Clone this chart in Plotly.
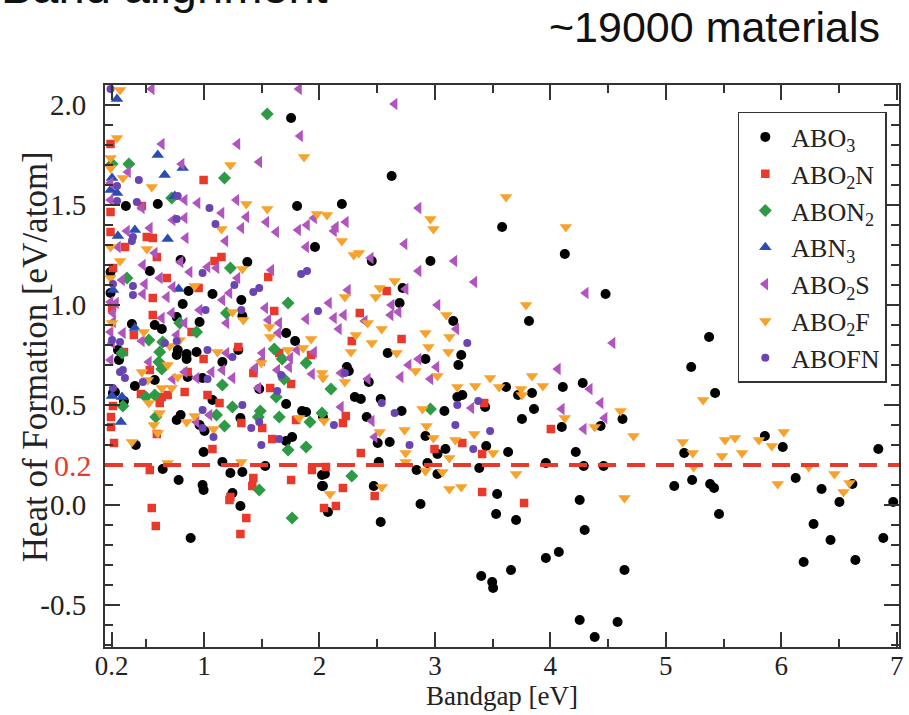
import plotly.graph_objects as go

# (bandgap [eV], heat of formation [eV/atom]) for each perovskite family
abo3 = [
    (1.754, 1.935), (0.323, 1.495), (0.599, 1.505), (1.806, 1.495), (1.961, 1.29), (0.797, 1.225),
    (1.375, 1.215), (0.530, 1.17), (0.19, 1.165), (0.866, 1.07), (1.073, 1.055), (1.323, 1.025),
    (0.815, 1.005), (0.763, 0.94), (0.573, 0.90), (0.375, 0.905), (0.634, 0.88), (0.961, 0.915),
    (1.332, 0.945), (0.254, 0.775), (0.263, 0.725), (0.772, 0.775), (0.849, 0.755), (0.935, 0.765),
    (1.297, 0.775), (1.159, 0.715), (0.763, 0.75), (0.849, 0.73), (0.858, 0.64), (0.573, 0.625),
    (0.987, 0.635), (0.401, 0.595), (0.228, 0.565), (0.211, 0.56), (0.306, 0.52), (1.073, 0.525),
    (0.797, 0.45), (0.763, 0.425), (0.961, 0.40), (1.004, 0.37), (1.315, 0.435), (0.409, 0.30),
    (0.996, 0.265), (1.159, 0.215), (0.642, 0.18), (0.780, 0.125), (0.987, 0.10), (0.996, 0.075),
    (1.246, 0.06), (1.315, -0.005), (1.228, 0.16), (1.332, 0.165), (1.530, 0.195), (1.711, 0.86),
    (1.789, 0.82), (1.478, 0.58), (1.711, 0.505), (1.849, 0.47), (1.884, 0.465), (1.763, 0.34),
    (1.711, 0.32), (2.022, 0.15), (2.022, 0.095), (2.073, -0.035), (0.884, -0.165), (2.530, -0.085),
    (2.875, 0.005), (3.530, -0.045), (3.703, -0.075), (2.625, 1.645), (2.194, 1.505), (3.582, 1.39),
    (2.453, 1.22), (2.961, 1.22), (4.125, 1.255), (2.720, 1.085), (2.694, 1.01), (3.159, 0.92),
    (3.815, 0.92), (2.591, 0.76), (3.228, 0.75), (2.918, 0.73), (3.203, 0.70), (2.237, 0.69),
    (2.254, 0.67), (2.427, 0.615), (2.306, 0.54), (2.358, 0.53), (2.530, 0.53), (3.194, 0.54),
    (3.237, 0.55), (3.616, 0.59), (3.720, 0.55), (3.841, 0.56), (4.108, 0.59), (3.435, 0.49),
    (3.858, 0.48), (3.082, 0.47), (2.711, 0.47), (2.409, 0.44), (2.030, 0.44), (3.754, 0.43),
    (4.099, 0.39), (2.918, 0.345), (2.504, 0.31), (2.608, 0.315), (3.444, 0.295), (3.091, 0.28),
    (3.022, 0.255), (3.634, 0.265), (2.513, 0.215), (2.935, 0.21), (2.841, 0.175), (3.022, 0.155),
    (3.384, 0.185), (3.961, 0.21), (2.047, 0.155), (2.030, 0.095), (2.470, 0.095), (3.539, 0.055),
    (4.478, 1.055), (4.280, 0.61), (4.435, 0.395), (5.375, 0.84), (5.220, 0.69), (5.427, 0.56),
    (4.625, 0.43), (4.220, 0.265), (4.289, 0.195), (4.461, 0.195), (4.254, 0.025), (4.297, -0.125),
    (4.073, -0.235), (4.642, -0.325), (4.254, -0.575), (4.582, -0.585), (4.384, -0.66), (5.159, 0.26),
    (5.228, 0.125), (5.073, 0.095), (5.384, 0.105), (5.418, 0.085), (5.461, -0.045), (5.858, 0.345),
    (6.013, 0.29), (6.125, 0.135), (6.349, 0.08), (6.616, 0.105), (6.504, 0.015), (6.280, -0.095),
    (6.194, -0.285), (6.427, -0.175), (6.642, -0.275), (6.841, 0.28), (6.970, 0.015), (6.884, -0.165),
    (3.401, -0.355), (3.496, -0.385), (3.504, -0.415), (3.659, -0.325), (3.961, -0.265), (0.19, 1.06),
]

abo2n = [
    (0.19, 1.805), (0.996, 1.625), (0.461, 1.495), (0.19, 1.465), (0.19, 1.365), (0.504, 1.34),
    (0.556, 1.335), (0.315, 1.29), (0.591, 1.24), (1.091, 1.22), (1.151, 1.24), (0.211, 1.185),
    (1.556, 1.14), (0.677, 1.135), (0.953, 1.085), (0.556, 1.035), (0.556, 0.95), (0.392, 0.85),
    (0.892, 0.865), (0.306, 0.765), (0.203, 0.985), (1.297, 0.79), (0.996, 0.73), (0.530, 0.675),
    (0.858, 0.665), (0.832, 0.565), (0.453, 0.555), (0.634, 0.54), (0.685, 0.55), (0.616, 0.51),
    (0.211, 0.495), (1.030, 0.55), (1.134, 0.51), (1.323, 0.41), (0.194, 0.44), (0.194, 0.39),
    (0.591, 0.355), (0.220, 0.31), (1.073, 0.28), (0.530, 0.175), (1.228, 0.04), (0.547, -0.015),
    (0.582, -0.105), (1.220, 0.025), (1.366, -0.065), (1.315, -0.145), (1.427, 0.135), (1.418, 0.095),
    (1.754, 0.125), (1.935, 0.175), (2.039, -0.015), (2.142, -0.005), (1.608, 0.97), (1.651, 0.76),
    (1.927, 0.75), (1.427, 0.66), (1.754, 0.605), (1.573, 0.585), (1.797, 0.425), (1.504, 0.385),
    (1.591, 0.33), (2.349, 0.96), (2.280, 0.82), (2.711, 0.83), (3.427, 0.51), (2.228, 0.445),
    (2.203, 0.41), (4.004, 0.38), (3.237, 0.31), (2.996, 0.28), (3.409, 0.255), (2.358, 0.26),
    (2.056, 0.19), (2.203, 0.085), (2.478, 0.045), (3.409, 0.065), (3.772, 0.01), (2.582, 1.07),
]

abon2 = [
    (1.547, 1.955), (0.349, 1.705), (0.203, 1.705), (1.177, 1.635), (0.720, 1.535), (1.228, 1.185),
    (0.332, 1.135), (0.522, 0.825), (0.789, 0.91), (1.194, 0.96), (0.935, 0.865), (0.289, 0.76),
    (0.642, 0.815), (0.616, 0.765), (0.608, 0.715), (0.634, 0.68), (1.159, 0.60), (0.496, 0.54),
    (0.573, 0.55), (0.297, 0.495), (1.108, 0.45), (1.246, 0.49), (0.582, 0.44), (1.177, 0.395),
    (1.478, 0.075), (1.763, -0.065), (1.728, 1.01), (1.608, 0.78), (1.677, 0.73), (1.884, 0.71),
    (1.694, 0.63), (1.625, 0.54), (1.487, 0.47), (1.47, 0.44), (1.651, 0.44), (1.918, 0.415),
    (1.728, 0.275), (1.884, 0.29), (2.099, 0.58), (2.961, 0.48), (2.022, 0.46), (2.280, 0.145),
]

abn3 = [
    (0.246, 2.03), (0.599, 1.75), (0.815, 1.685), (0.659, 1.65), (0.19, 1.575), (0.246, 1.56),
    (0.746, 1.545), (0.254, 1.345), (0.401, 1.375), (0.685, 1.33), (0.211, 1.075), (0.780, 1.08),
    (0.401, 0.885), (0.203, 0.545), (0.289, 0.54), (0.280, 0.415), (0.203, 1.635),
]

abo2s = [
    (0.547, 2.08), (1.823, 2.08), (2.651, 2.005), (1.832, 1.845), (0.634, 1.805), (1.289, 1.805),
    (0.806, 1.705), (1.478, 1.715), (0.341, 1.665), (0.19, 1.61), (0.832, 1.525), (0.944, 1.51),
    (1.280, 1.525), (0.461, 1.485), (0.19, 1.525), (1.151, 1.46), (1.366, 1.44), (0.728, 1.425),
    (0.832, 1.435), (1.323, 1.385), (1.539, 1.415), (1.625, 1.365), (1.815, 1.375), (1.892, 1.40),
    (1.953, 1.435), (0.332, 1.37), (0.530, 1.385), (0.841, 1.335), (1.185, 1.32), (1.884, 1.29),
    (0.254, 1.29), (0.573, 1.26), (0.797, 1.215), (0.470, 1.20), (1.030, 1.19), (1.108, 1.185),
    (0.875, 1.165), (1.582, 1.175), (0.289, 1.125), (0.616, 1.135), (1.289, 1.135), (0.487, 1.105),
    (0.728, 1.09), (1.220, 1.06), (0.470, 1.055), (0.677, 1.04), (0.19, 1.015), (0.237, 1.01),
    (0.211, 0.96), (1.159, 1.025), (0.634, 0.935), (0.720, 0.96), (0.832, 0.91), (0.961, 0.975),
    (1.194, 0.91), (0.297, 0.86), (0.19, 0.865), (0.211, 0.915), (0.461, 0.82), (0.763, 0.85),
    (0.203, 0.81), (0.19, 0.725), (0.522, 0.715), (0.832, 0.665), (1.065, 0.665), (1.159, 0.675),
    (1.194, 0.76), (0.728, 0.63), (0.935, 0.635), (1.246, 0.635), (1.047, 0.45), (0.935, 0.415),
    (1.530, 0.985), (1.884, 0.93), (1.556, 0.925), (1.651, 0.91), (1.642, 0.86), (1.806, 0.775),
    (1.953, 0.765), (1.504, 0.76), (1.504, 0.725), (1.746, 0.735), (1.737, 0.69), (1.444, 0.685),
    (1.634, 0.675), (1.935, 0.655), (1.470, 0.585), (2.082, 1.01), (2.211, 0.95), (2.125, 0.935),
    (2.168, 0.88), (2.392, 0.92), (2.616, 0.95), (2.685, 0.965), (3.022, 1.0), (3.185, 0.88),
    (2.858, 0.73), (2.772, 0.70), (3.013, 0.69), (2.185, 0.66), (2.418, 0.63), (2.703, 0.64),
    (2.961, 0.63), (4.065, 0.68), (3.315, 0.485), (2.185, 0.49), (2.453, 0.42), (4.099, 0.48),
    (2.478, 0.34), (2.858, 1.485), (2.228, 1.415), (2.142, 1.39), (2.125, 1.37), (2.444, 1.235),
    (2.737, 1.305), (3.168, 1.22), (2.858, 1.17), (3.341, 1.115), (2.746, 1.08), (2.246, 1.075),
    (2.625, 1.0), (4.306, 1.06), (4.539, 0.81), (4.341, 0.58), (4.435, 0.51), (4.470, 0.435),
    (4.289, 0.38),
]

abo2f = [
    (0.272, 2.075), (0.246, 1.835), (1.866, 1.74), (0.19, 1.735), (1.228, 1.70), (0.19, 1.685),
    (0.297, 1.635), (0.547, 1.59), (1.366, 1.505), (1.547, 1.48), (1.978, 1.455), (2.065, 1.45),
    (1.151, 1.38), (0.19, 1.29), (0.504, 1.28), (0.272, 1.22), (1.332, 1.18), (0.19, 1.135),
    (0.918, 1.095), (0.203, 0.91), (0.478, 0.865), (1.246, 0.965), (1.340, 0.925), (0.789, 0.825),
    (0.703, 0.795), (1.116, 0.765), (0.685, 0.70), (0.461, 0.665), (0.772, 0.64), (0.513, 0.625),
    (0.634, 0.585), (0.720, 0.585), (0.522, 0.51), (0.616, 0.46), (0.849, 0.415), (0.918, 0.445),
    (1.082, 0.38), (0.565, 0.40), (0.599, 0.36), (0.375, 0.315), (1.323, 0.215), (0.685, 0.21),
    (1.565, 0.89), (1.573, 0.84), (1.927, 0.83), (1.728, 0.775), (1.858, 0.785), (1.496, 0.71),
    (2.022, 0.66), (1.823, 0.435), (2.220, 1.04), (2.418, 0.91), (3.099, 0.95), (3.789, 1.0),
    (2.315, 0.85), (2.453, 0.81), (2.539, 0.88), (2.272, 0.765), (2.668, 0.76), (2.918, 0.86),
    (2.944, 0.79), (3.125, 0.84), (3.116, 0.765), (2.832, 0.67), (3.022, 0.645), (2.030, 0.635),
    (2.220, 0.615), (3.194, 0.59), (3.349, 0.595), (3.478, 0.635), (3.556, 0.59), (3.746, 0.58),
    (3.754, 0.55), (3.841, 0.645), (3.935, 0.595), (2.892, 0.48), (2.039, 0.42), (4.125, 0.435),
    (2.737, 0.375), (2.927, 0.395), (2.987, 0.335), (3.341, 0.355), (2.522, 0.365), (3.177, 0.325),
    (2.746, 0.26), (3.504, 0.26), (3.125, 0.235), (2.746, 0.215), (2.918, 0.17), (3.065, 0.165),
    (3.703, 0.155), (2.091, 0.055), (2.539, 0.09), (3.125, 0.08), (3.228, 0.09), (3.616, 1.54),
    (4.134, 1.39), (2.961, 1.43), (2.987, 1.38), (2.194, 1.32), (2.297, 1.25), (2.341, 1.26),
    (2.651, 1.12), (2.522, 1.085), (2.487, 1.04), (4.384, 0.39), (4.608, 0.47), (4.720, 0.345),
    (4.642, 0.035), (5.323, 0.525), (5.147, 0.315), (5.233, 0.26), (5.241, 0.19), (5.513, 0.325),
    (5.599, 0.335), (5.487, 0.245), (5.660, 0.26), (5.806, 0.325), (5.918, 0.295), (6.022, 0.365),
    (5.970, 0.105), (6.237, 0.19), (6.461, 0.155), (6.591, 0.11), (6.539, 0.065),
]

abofn = [
    (0.19, 2.08), (0.435, 1.625), (0.246, 1.595), (0.772, 1.545), (0.418, 1.515), (0.246, 1.52),
    (1.047, 1.485), (0.763, 1.43), (1.099, 1.405), (0.384, 1.34), (0.375, 1.32), (0.987, 1.16),
    (1.841, 1.155), (1.892, 1.17), (0.211, 1.105), (0.384, 1.095), (1.263, 1.10), (1.427, 1.065),
    (1.478, 1.085), (0.384, 1.05), (1.013, 0.975), (1.323, 0.975), (0.203, 0.825), (0.272, 0.815),
    (0.763, 0.82), (0.659, 0.81), (1.030, 0.775), (1.246, 0.74), (0.297, 0.675), (0.272, 0.665),
    (0.315, 0.635), (0.470, 0.615), (1.030, 0.63), (0.211, 0.585), (0.987, 0.475), (1.332, 0.50),
    (0.987, 0.385), (1.082, 0.34), (1.987, 0.97), (1.668, 0.65), (1.634, 0.57), (1.478, 0.415),
    (1.409, 0.385), (1.651, 0.33), (1.496, 0.30), (3.280, 0.81), (2.220, 0.66), (2.539, 0.51),
    (3.375, 0.52), (3.194, 0.50), (2.651, 0.46), (2.125, 0.40), (3.177, 0.40), (3.478, 0.37),
    (2.780, 0.30), (3.332, 0.28),
]

stability_cut = 0.2
x_ticks = [0.2, 1, 2, 3, 4, 5, 6, 7]
y_ticks = [-0.5, 0.0, 0.5, 1.0, 1.5, 2.0]

SERIF = "Liberation Serif, Times New Roman, serif"
SANS = "Liberation Sans, Arial, sans-serif"
INK = "#222222"

families = [
    ("ABO<sub>3</sub>", abo3, "circle", "#000000", 10),
    ("ABO<sub>2</sub>N", abo2n, "square", "#e8392b", 8.5),
    ("ABON<sub>2</sub>", abon2, "diamond", "#2f9a45", 10),
    ("ABN<sub>3</sub>", abn3, "triangle-up", "#2a4db3", 11),
    ("ABO<sub>2</sub>S", abo2s, "triangle-left", "#b055bd", 11),
    ("ABO<sub>2</sub>F", abo2f, "triangle-down", "#f6a22c", 11),
    ("ABOFN", abofn, "circle", "#6a45b2", 8),
]

fig = go.Figure()
for label, pts, symbol, color, size in families:
    gap, hf = zip(*pts)
    fig.add_trace(go.Scatter(
        x=list(gap), y=list(hf), mode="markers", name=label,
        marker=dict(symbol=symbol, color=color, size=size, line=dict(width=0)),
    ))

# stability threshold
fig.add_shape(type="line", xref="paper", x0=0, x1=1, yref="y", y0=stability_cut, y1=stability_cut,
              line=dict(color="#e8392b", width=4, dash="18px,11px"), layer="above")
fig.add_annotation(xref="paper", x=0, yref="y", y=stability_cut, text=f"{stability_cut:.1f}",
                   showarrow=False, xanchor="right", yanchor="middle", xshift=-11,
                   font=dict(family=SERIF, size=30, color="#e8392b"))

# y-axis title, placed by hand next to the tick labels
fig.add_annotation(xref="paper", yref="paper", x=-0.0877, y=0.516, text="Heat of Formation [eV/atom]",
                   textangle=-90, showarrow=False, xanchor="center", yanchor="middle",
                   font=dict(family=SERIF, size=35, color=INK))

fig.add_annotation(xref="paper", yref="paper", x=0.9787, y=1.103, text="~19000 materials",
                   showarrow=False, xanchor="right", yanchor="middle",
                   font=dict(family=SANS, size=43, color="#111111"))
fig.add_annotation(xref="paper", yref="paper", x=-0.134, y=1.175, text="Band alignment",
                   showarrow=False, xanchor="left", yanchor="middle",
                   font=dict(family=SANS, size=47, color="#111111"))

axis_common = dict(showline=True, linecolor="#333333", linewidth=2, mirror="allticks",
                   ticks="inside", ticklen=15, tickwidth=1.5, tickcolor="#333333",
                   showgrid=False, zeroline=False)

fig.update_xaxes(range=[0.142, 7.02], tickmode="array", tickvals=x_ticks,
                 ticktext=[str(v) for v in x_ticks],
                 tickfont=dict(family=SERIF, size=27, color=INK),
                 minor=dict(tick0=0, dtick=0.5, ticks="inside", ticklen=8, tickwidth=1.5, tickcolor="#333333"),
                 title=dict(text="Bandgap [eV]", font=dict(family=SERIF, size=27, color=INK), standoff=0),
                 ticklabelstandoff=-6, **axis_common)
fig.update_yaxes(range=[-0.71, 2.1], tickmode="array", tickvals=y_ticks,
                 ticktext=[f"{v:.1f}" for v in y_ticks],
                 tickfont=dict(family=SERIF, size=29, color=INK),
                 minor=dict(tick0=0, dtick=0.1, ticks="inside", ticklen=8, tickwidth=1.5, tickcolor="#333333"),
                 ticklabelstandoff=11, **axis_common)

fig.update_layout(
    width=909, height=715,
    margin=dict(l=105, r=6, t=85, b=68),
    paper_bgcolor="white", plot_bgcolor="white",
    showlegend=True,
    legend=dict(x=0.797, y=0.952, xanchor="left", yanchor="top",
                bgcolor="white", bordercolor="#333333", borderwidth=1.5,
                font=dict(family=SERIF, size=26, color=INK),
                itemsizing="trace", itemwidth=42, tracegroupgap=0),
)

fig.write_html("out.html")
